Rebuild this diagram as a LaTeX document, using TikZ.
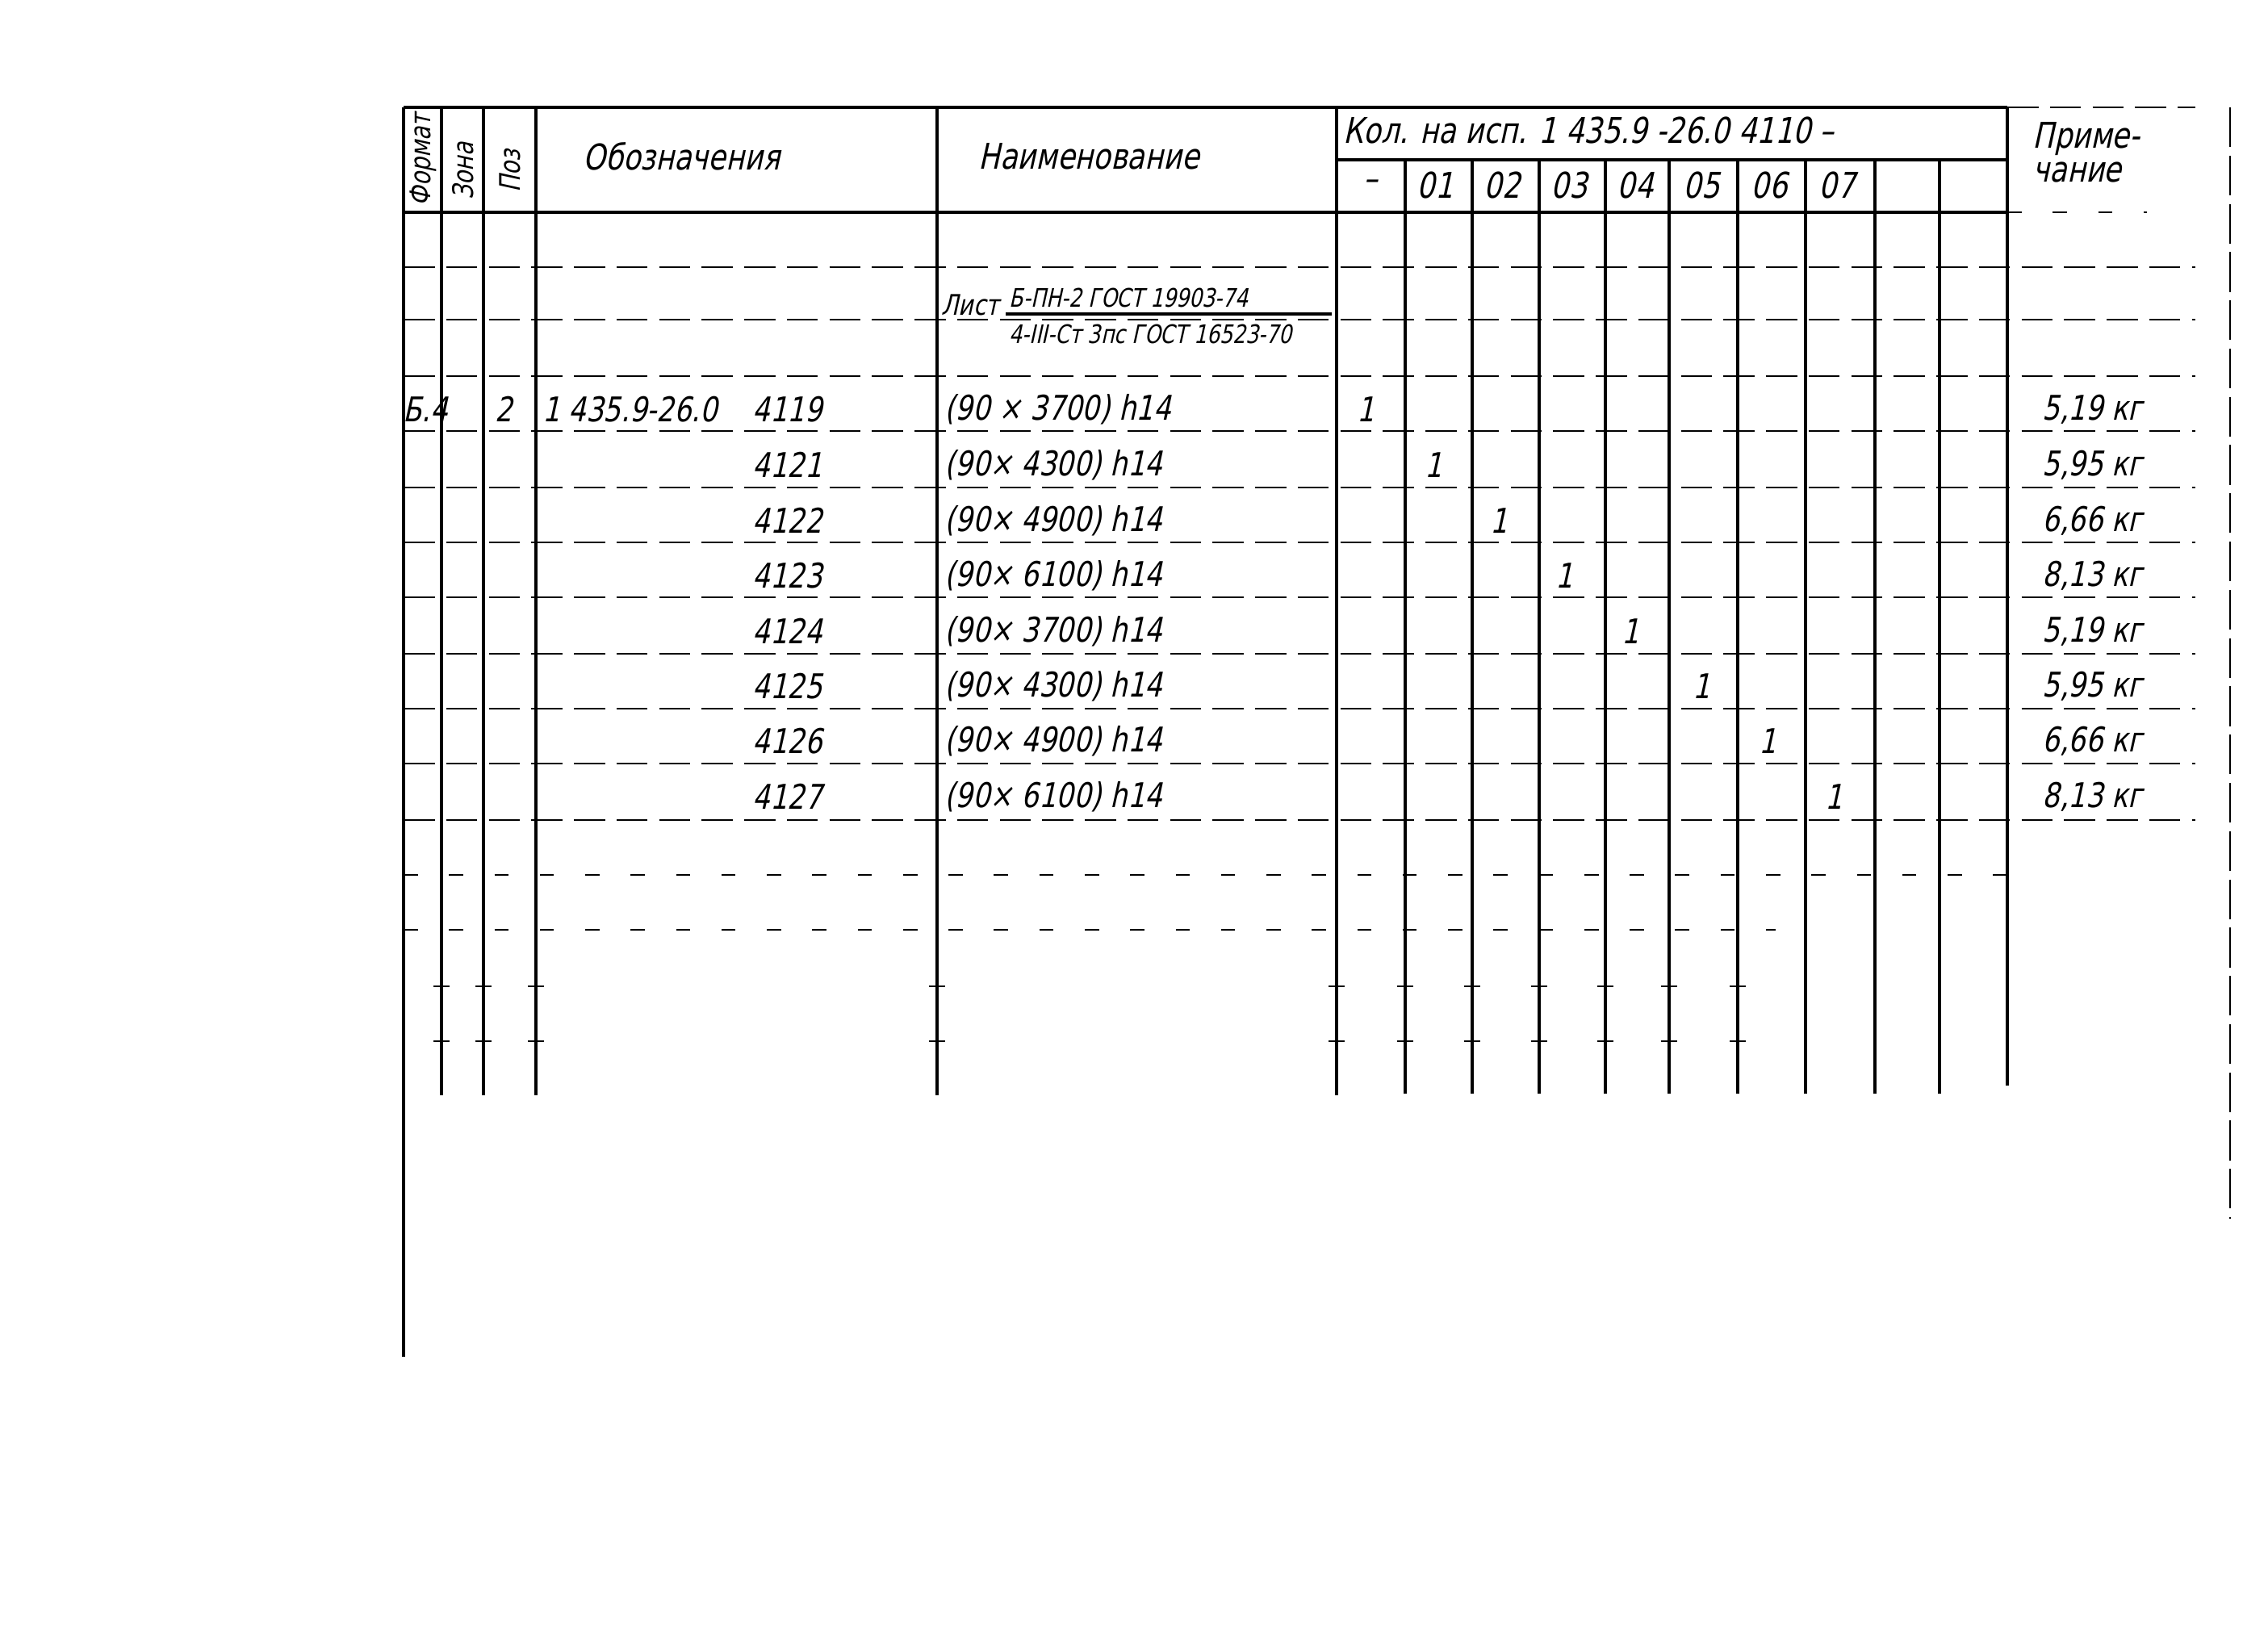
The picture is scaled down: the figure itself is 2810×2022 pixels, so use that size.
\documentclass[tikz,border=0pt]{standalone}
\usepackage{fontspec}
\setmainfont{DejaVu Sans}[FakeSlant=0.22,FakeStretch=0.8]
\begin{document}
\begin{tikzpicture}[x=0.01cm,y=-0.01cm,
  frame/.style={line width=1.4pt},
  vline/.style={line width=1.2pt},
  rowline/.style={line width=0.6pt,dash pattern=on 11pt off 4pt},
  sparse/.style={line width=0.6pt,dash pattern=on 5pt off 11pt},
  txt/.style={inner sep=0pt,font=\fontsize{12}{14}\selectfont},
  hdr/.style={inner sep=0pt,font=\fontsize{12.5}{15}\selectfont},
  small/.style={inner sep=0pt,font=\fontsize{9}{10}\selectfont},
  rot/.style={inner sep=0pt,rotate=90,font=\fontsize{10}{11}\selectfont}]
\useasboundingbox (0,0) rectangle (2810,2022);
% ---- horizontal lines
\draw[frame] (500,133) -- (2487,133);
\draw[rowline] (2487,133) -- (2720,133);
\draw[vline] (1656,198) -- (2487,198);
\draw[frame] (500,263) -- (2487,263);
\draw[sparse] (2487,263) -- (2660,263);
\foreach \yy in {331,396,466,534,604,672,740,810,878,946,1016}
  \draw[rowline] (500,\yy) -- (2720,\yy);
\draw[sparse] (500,1084) -- (2487,1084);
\draw[sparse] (500,1152) -- (2200,1152);
\foreach \yy in {1222,1290}
  \foreach \xx in {547,599,664,1161,1656,1741,1824,1907,1989,2068,2153}
    \draw[line width=0.6pt] (\xx-10,\yy) -- (\xx+10,\yy);
% ---- vertical lines
\draw[frame] (500,133) -- (500,1681);
\foreach \xx in {547,599,664,1161,1656}
  \draw[vline] (\xx,133) -- (\xx,1357);
\foreach \xx in {1741,1824,1907,1989,2068,2153,2237,2323,2403}
  \draw[vline] (\xx,198) -- (\xx,1355);
\draw[vline] (2487,133) -- (2487,1345);
\draw[line width=0.7pt,dash pattern=on 14pt off 3pt] (2763,133) -- (2763,1510);
% ---- header
\node[rot] (hFormat) at (524,198) {Формат};
\node[rot] (hZona) at (574,212) {Зона};
\node[rot] (hPoz) at (632,212) {Поз};
\node[hdr,anchor=west] (hOboz) at (722,194) {Обозначения};
\node[hdr,anchor=west] (hNaim) at (1212,194) {Наименование};
\node[hdr,anchor=west] (hKol) at (1664,162) {Кол. на исп. 1 435.9 -26.0 4110 –};
\node[hdr,anchor=west] (hPrim1) at (2518,172) {Приме-};
\node[hdr,anchor=west] (hPrim2) at (2518,214) {чание};
\foreach \cx/\lab [count=\i] in {1698/–,1778/01,1861/02,1944/03,2026/04,2108/05,2192/06,2276/07}
  \node[hdr] (sub\i) at (\cx,230) {\lab};
% ---- material
\node[inner sep=0pt,font=\fontsize{10}{12}\selectfont,anchor=west] (list) at (1166,378) {Лист};
\node[small,anchor=west] (matTop) at (1250,369) {Б-ПН-2 ГОСТ 19903-74};
\draw[line width=1pt] (1246,389) -- (1650,389);
\node[small,anchor=west] (matBot) at (1250,414) {4-III-Ст 3пс ГОСТ 16523-70};
% ---- data rows
\node[txt] (fmt) at (527,507) {Б.4};
\node[txt] (pos) at (624,507) {2};
\node[txt,anchor=west] (doc) at (672,507) {1 435.9-26.0};
\foreach \yy/\code/\nm/\cx/\mass [count=\i] in {
  507/4119/{(90 × 3700) h14}/1692/{5,19 кг},
  576/4121/{(90× 4300) h14}/1776/{5,95 кг},
  645/4122/{(90× 4900) h14}/1857/{6,66 кг},
  713/4123/{(90× 6100) h14}/1938/{8,13 кг},
  782/4124/{(90× 3700) h14}/2020/{5,19 кг},
  850/4125/{(90× 4300) h14}/2108/{5,95 кг},
  918/4126/{(90× 4900) h14}/2190/{6,66 кг},
  987/4127/{(90× 6100) h14}/2272/{8,13 кг}}
{
  \node[txt,anchor=west] (code\i) at (932,\yy) {\code};
  \node[txt,anchor=west] (name\i) at (1170,\yy) {\nm};
  \node[txt] (qty\i) at (\cx,\yy) {1};
  \node[txt,anchor=west] (mass\i) at (2530,\yy) {\mass};
}
\end{tikzpicture}
\end{document}
